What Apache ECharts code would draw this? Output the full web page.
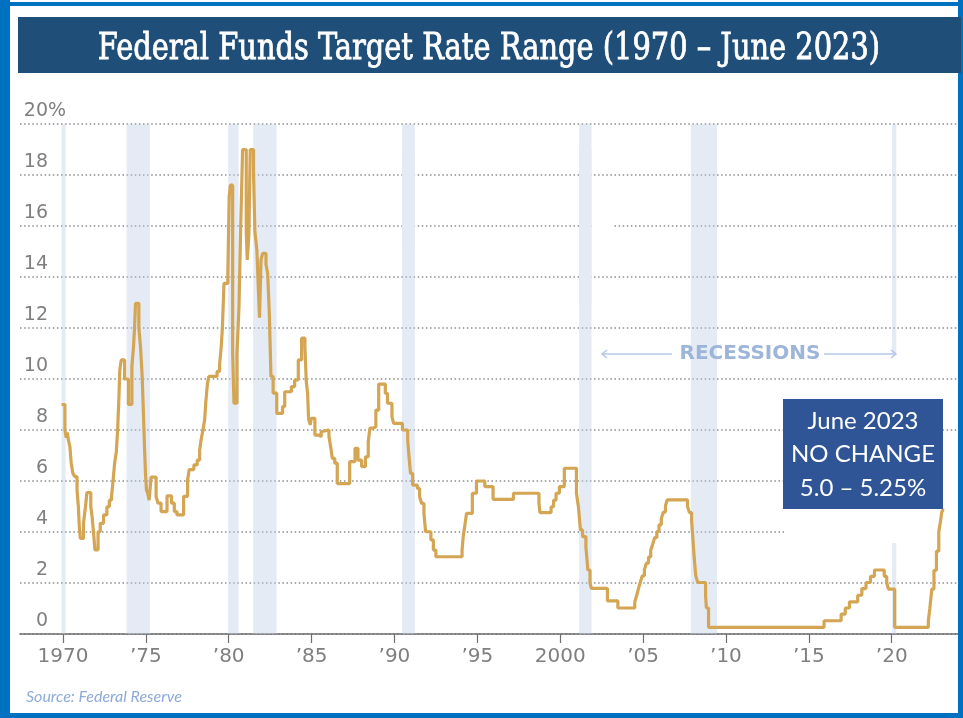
<!DOCTYPE html>
<html><head><meta charset="utf-8">
<script src="https://cdn.jsdelivr.net/npm/echarts@6/dist/echarts.min.js"></script>
<style>html,body{margin:0;padding:0;background:#fff}#c{width:963px;height:718px}</style>
</head><body><div id="c"></div>
<script>
// Federal funds target rate (step changes): year (decimal) and rate (%)
const years = [
1969.92,1970.12,1970.20,1970.26,1970.33,1970.42,1970.50,1970.60,1970.72,1970.85,1970.93,1970.99,1971.05,
1971.24,1971.36,1971.45,1971.68,1971.76,1971.85,1971.93,1972.12,1972.25,1972.45,1972.65,1972.80,1972.93,
1973.03,1973.12,1973.22,1973.30,1973.38,1973.43,1973.52,1973.72,1973.95,1974.16,1974.26,1974.32,1974.38,
1974.58,1974.68,1974.78,1974.86,1974.92,1974.98,1975.04,1975.12,1975.20,1975.32,1975.62,1975.74,1975.92,
1976.28,1976.55,1976.72,1976.88,1977.28,1977.52,1977.62,1977.90,1978.10,1978.25,1978.33,1978.45,1978.55,
1978.62,1978.72,1978.80,1979.30,1979.45,1979.55,1979.62,1979.68,1979.72,1979.95,1980.03,1980.10,1980.24,
1980.32,1980.50,1980.62,1980.72,1980.84,1981.06,1981.12,1981.22,1981.30,1981.50,1981.58,1981.70,1981.80,
1981.86,1981.95,1982.05,1982.25,1982.35,1982.45,1982.55,1982.68,1982.90,1983.25,1983.38,1983.78,1983.98,
1984.20,1984.40,1984.60,1984.68,1984.76,1984.82,1984.92,1984.98,1985.20,1985.45,1985.58,1985.70,1986.05,
1986.15,1986.25,1986.40,1986.55,1987.30,1987.62,1987.80,1988.02,1988.25,1988.42,1988.52,1988.72,1988.88,
1989.05,1989.45,1989.58,1989.85,1989.95,1990.48,1990.80,1990.88,1990.97,1991.10,1991.38,1991.52,1991.64,
1991.78,1991.88,1992.20,1992.35,1992.50,1994.08,1994.15,1994.25,1994.35,1994.70,1994.95,1995.45,1995.95,
1997.18,1998.72,1998.78,1999.45,1999.60,1999.75,1999.95,2000.25,2000.98,2001.10,2001.22,2001.35,2001.55,
2001.67,2001.80,2001.88,2002.85,2003.48,2004.50,2004.62,2004.72,2004.83,2004.95,2005.08,2005.20,2005.33,
2005.46,2005.58,2005.70,2005.83,2005.96,2006.10,2006.22,2006.35,2006.45,2007.68,2007.80,2007.93,2008.03,
2008.08,2008.18,2008.30,2008.77,2008.82,2008.95,2015.92,2016.95,2017.20,2017.45,2017.95,2018.20,2018.45,
2018.72,2018.96,2019.55,2019.70,2019.80,2020.18,2022.21,2022.30,2022.42,2022.55,2022.70,2022.84,2022.95,
2023.02,2023.09,2023.17
];
const rates = [
9.0,8.0,7.7,7.9,7.6,7.35,6.7,6.3,6.17,5.65,5.0,4.2,3.75,
4.34,5.0,5.55,5.0,4.6,3.95,3.3,4.01,4.34,4.67,4.99,5.25,5.4,
6.04,6.7,7.15,8.0,9.3,10.35,10.75,10.0,9.0,10.5,11.27,12.0,12.97,
12.0,11.27,10.1,8.6,7.35,6.3,5.65,5.5,5.25,6.15,5.38,5.13,4.8,
5.42,5.13,4.8,4.67,5.4,6.04,6.45,6.63,6.82,7.2,7.6,8.0,8.4,
9.1,9.83,10.1,10.3,10.55,11.27,12.0,13.1,13.75,14.15,17.15,17.6,11.0,
9.05,11.0,12.8,15.84,19.0,15.8,14.67,15.7,19.0,18.07,15.8,15.06,13.36,
12.4,14.67,14.93,14.5,14.15,12.6,10.1,9.45,8.65,8.92,9.5,9.7,9.96,
10.75,11.6,11.27,9.9,9.44,8.45,8.2,8.46,7.8,7.74,7.93,8.0,7.74,
7.35,6.89,6.7,5.9,6.76,7.28,6.82,6.56,6.95,7.54,8.07,8.13,8.78,
9.8,9.44,9.05,8.52,8.26,8.0,7.6,6.95,6.3,5.84,5.71,5.38,5.12,
4.73,4.01,3.69,3.29,3.03,3.29,3.82,4.27,4.73,5.52,6.0,5.78,5.28,
5.52,5.12,4.76,4.99,5.25,5.52,5.78,6.5,5.52,4.99,4.08,3.82,3.42,
2.51,2.0,1.79,1.3,1.02,1.26,1.52,1.78,2.02,2.28,2.52,2.78,3.02,
3.28,3.52,3.78,4.02,4.28,4.52,4.78,5.02,5.26,5.0,4.76,4.44,3.52,
3.02,2.28,2.02,1.52,1.02,0.26,0.52,0.78,1.02,1.26,1.52,1.78,2.02,
2.26,2.51,2.26,2.02,1.76,0.26,0.52,1.0,1.76,2.5,3.25,4.0,4.45,
4.78,4.86,4.86
];
const tickYears = [1970,1975,1980,1985,1990,1995,2000,2005,2010,2015,2020];
const recessionStart = [1969.92,1973.84,1979.97,1981.48,1990.46,2001.14,2007.88,2020.02];
const recessionEnd   = [1970.16,1975.25,1980.60,1982.89,1991.23,2001.89,2009.46,2020.28];
const annotationLines = ['June 2023','NO CHANGE','5.0 – 5.25%'];

const bands = [];
const solidBands = [];
recessionStart.forEach((s,i)=>{
  const e = recessionEnd[i];
  if (s > 2019) {
    bands.push([{xAxis:s, yAxis:0},{xAxis:e, yAxis:3.57}]);
    bands.push([{xAxis:s, yAxis:11.0},{xAxis:e, yAxis:20}]);
  } else {
    bands.push([{xAxis:s, yAxis:0},{xAxis:e, yAxis:20}]);
  }
  // in the original, the 1990 and 2001 shadings cover the upper dotted gridlines
  if (s > 1990 && s < 1991) solidBands.push([{xAxis:s, yAxis:15},{xAxis:e, yAxis:19}]);
  if (s > 2001 && s < 2002) solidBands.push([{xAxis:s, yAxis:13},{xAxis:e, yAxis:19}]);
});

const chart = echarts.init(document.getElementById('c'), null, {renderer:'canvas'});
const gray = '#7f7f7f';
chart.setOption({
  animation:false,
  backgroundColor:'#ffffff',
  grid:{left:20, right:5, top:124, bottom:84},
  xAxis:{
    type:'value', min:1967.41, max:2024.0,
    axisLine:{show:true, lineStyle:{color:'#6e6e6e', width:1.5}},
    axisTick:{show:true, customValues:tickYears, length:9, lineStyle:{color:'#6e6e6e', width:1.2}},
    axisLabel:{customValues:tickYears, margin:13, fontFamily:'DejaVu Sans', fontSize:20, color:gray,
      formatter:(v)=> (v===1970||v===2000) ? String(v) : '\u2019' + String(v).slice(2)},
    splitLine:{show:false}
  },
  yAxis:{
    type:'value', min:0, max:20, interval:2,
    axisLine:{show:false}, axisTick:{show:false},
    axisLabel:{inside:true, align:'right', margin:28, verticalAlign:'bottom', padding:[0,0,3,0],
      fontFamily:'DejaVu Sans', fontSize:19, color:gray, formatter:(v)=>String(v)},
    splitLine:{show:true, lineStyle:{color:'#8c8c8c', width:1.5, type:[1.5,2.6]}}
  },
  series:[
    {type:'line', data:[], z:1, silent:true,
      markArea:{silent:true, itemStyle:{color:'rgba(190,208,232,0.42)'}, data:bands}},
    {type:'line', data:[], z:1, silent:true,
      markArea:{silent:true, itemStyle:{color:'#E4EBF5'}, data:solidBands}},
    {type:'line', step:'end', z:3, silent:true, symbol:'none',
      data: years.map((y,i)=>[y, rates[i]]),
      lineStyle:{color:'#D4A553', width:3.2}}
  ],
  graphic:{elements:[
    {type:'rect', z:1, shape:{x:784, y:468, width:177, height:70}, style:{fill:'#ffffff'}},
    {type:'rect', z:1, shape:{x:592, y:222, width:21, height:8}, style:{fill:'#ffffff'}},
    {type:'rect', z:20, shape:{x:0, y:0, width:10, height:718}, style:{fill:'#0070C0'}},
    {type:'rect', z:20, shape:{x:0, y:2, width:963, height:4}, style:{fill:'#0070C0'}},
    {type:'rect', z:20, shape:{x:958, y:0, width:5, height:718}, style:{fill:'#0070C0'}},
    {type:'rect', z:20, shape:{x:0, y:713, width:963, height:5}, style:{fill:'#0070C0'}},
    {type:'rect', z:20, shape:{x:18, y:17, width:943, height:56}, style:{fill:'#1F4E79'}},
    {type:'text', z:21, x:489, y:49, scaleX:0.845,
      style:{text:'Federal Funds Target Rate Range (1970 – June 2023)', fill:'#ffffff',
        stroke:'#ffffff', lineWidth:0.8,
        font:'38px "DejaVu Serif Condensed"', textAlign:'center', textVerticalAlign:'middle'}},
    {type:'text', z:5, x:48, y:121,
      style:{text:'%', fill:gray, font:'19px "DejaVu Sans"', textAlign:'left', textVerticalAlign:'bottom'}},
    {type:'text', z:5, x:750, y:354,
      style:{text:'RECESSIONS', fill:'#9DB5D9', font:'bold 20px "DejaVu Sans"', textAlign:'center', textVerticalAlign:'middle'}},
    {type:'line', z:5, shape:{x1:602, y1:354, x2:672, y2:354}, style:{stroke:'#B4C7E7', lineWidth:1.5}},
    {type:'polyline', z:5, shape:{points:[[607,350],[602,354],[607,358]]}, style:{stroke:'#B4C7E7', lineWidth:1.5, fill:null}},
    {type:'line', z:5, shape:{x1:824, y1:354, x2:896, y2:354}, style:{stroke:'#B4C7E7', lineWidth:1.5}},
    {type:'polyline', z:5, shape:{points:[[891,350],[896,354],[891,358]]}, style:{stroke:'#B4C7E7', lineWidth:1.5, fill:null}},
    {type:'rect', z:10, shape:{x:783, y:399, width:160, height:110}, style:{fill:'#2F5597'}},
    {type:'text', z:11, x:863, y:421, style:{text:annotationLines[0], fill:'#ffffff', font:'24px Lato', textAlign:'center', textVerticalAlign:'middle'}},
    {type:'text', z:11, x:863, y:454, style:{text:annotationLines[1], fill:'#ffffff', font:'24px Lato', textAlign:'center', textVerticalAlign:'middle'}},
    {type:'text', z:11, x:863, y:488, style:{text:annotationLines[2], fill:'#ffffff', font:'24px Lato', textAlign:'center', textVerticalAlign:'middle'}},
    {type:'text', z:5, x:26, y:697, style:{text:'Source: Federal Reserve', fill:'#8EAADB', font:'italic 16px Lato', textAlign:'left', textVerticalAlign:'middle'}}
  ]}
});
</script></body></html>
